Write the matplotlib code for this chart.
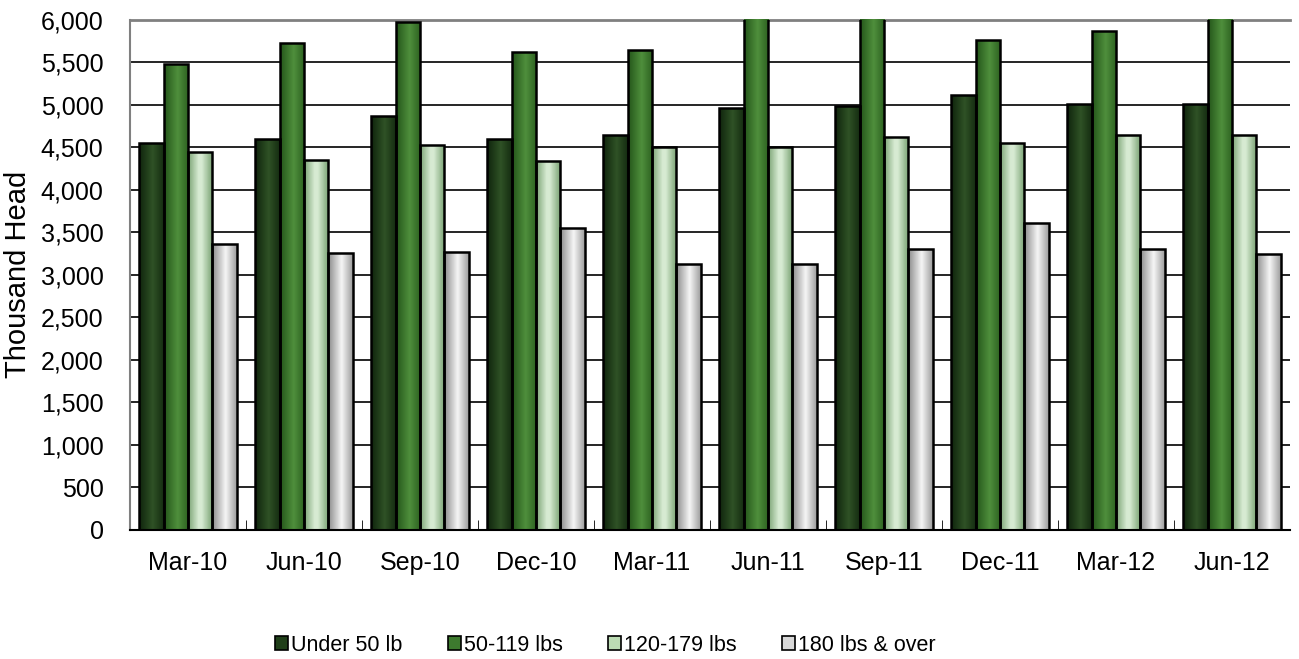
import numpy as np
import matplotlib
matplotlib.use("Agg")
import matplotlib.pyplot as plt
from matplotlib.colors import LinearSegmentedColormap
from matplotlib.patches import Patch

plt.rcParams["font.family"] = ["Liberation Sans", "DejaVu Sans"]

QUARTERS = ["Mar-10", "Jun-10", "Sep-10", "Dec-10", "Mar-11",
            "Jun-11", "Sep-11", "Dec-11", "Mar-12", "Jun-12"]
SERIES = ["Under 50 lb", "50-119 lbs", "120-179 lbs", "180 lbs & over"]
UNDER_50 = [4550, 4600, 4870, 4600, 4640, 4960, 4980, 5110, 5010, 5010]
LBS_50_119 = [5480, 5725, 5975, 5625, 5650, 6080, 6120, 5765, 5865, 6150]
LBS_120_179 = [4450, 4350, 4525, 4335, 4505, 4505, 4625, 4550, 4650, 4640]
LBS_180_UP = [3360, 3255, 3265, 3555, 3125, 3125, 3305, 3605, 3305, 3240]
YMAX = 6000

# (edge-dark, centre-light) per series, for the cylinder-ish shading
SHADES = [("#0f240c", "#2f5226"),
          ("#24561a", "#4f8f3c"),
          ("#6f9a68", "#e4f5e0"),
          ("#8a8a8a", "#f6f6f6")]
LEGEND_FACE = ["#203f19", "#3d7a2e", "#bcdcb4", "#d8d8d8"]


def shaded_bars(ax, xs, vals, width, shade, textured=False):
    cmap = LinearSegmentedColormap.from_list("s", [shade[0], shade[1], shade[0]])
    grad = np.linspace(0, 1, 64)
    if textured:
        grad = grad + 0.12 * (np.arange(64) % 2)
    grad = grad.reshape(1, -1)
    bars = ax.bar(xs, vals, width, color=shade[0], zorder=2, linewidth=0)
    for b in bars:
        x0 = b.get_x()
        top = min(b.get_height(), YMAX)
        im = ax.imshow(grad, extent=[x0, x0 + width, 0, top],
                       aspect="auto", cmap=cmap, zorder=2.5, vmin=0, vmax=1.1)
        im.set_clip_path(b)
    ax.bar(xs, vals, width, fill=False, edgecolor="black", linewidth=1.8, zorder=3)


fig = plt.figure(figsize=(12.99, 6.59), dpi=100)
ax = fig.add_axes([0.100, 0.196, 0.893, 0.774])

x = np.arange(len(QUARTERS))
w = 0.21
all_series = [UNDER_50, LBS_50_119, LBS_120_179, LBS_180_UP]
for i, (vals, shade) in enumerate(zip(all_series, SHADES)):
    shaded_bars(ax, x + (i - 1.5) * w, vals, w, shade, textured=(i == 2))

ax.set_xlim(-0.5, len(QUARTERS) - 0.5)
ax.set_ylim(0, YMAX)
ax.set_yticks(np.arange(0, YMAX + 1, 500))
ax.set_yticklabels([f"{v:,}" for v in range(0, YMAX + 1, 500)], fontsize=18)
ax.set_xticks(x)
ax.set_xticklabels(QUARTERS, fontsize=18)
ax.tick_params(axis="x", length=0, pad=15)
ax.tick_params(axis="y", length=0, pad=19)
ax.set_xticks(np.arange(0.5, len(QUARTERS) - 0.5, 1), minor=True)
ax.tick_params(axis="x", which="minor", direction="in", length=7, color="black")
ax.grid(axis="y", color="black", linewidth=1.2, zorder=0)
ax.set_axisbelow(True)
ax.set_ylabel("Thousand Head", fontsize=21)
ax.yaxis.set_label_coords(-0.084, 0.5)

for side in ["top", "right"]:
    ax.spines[side].set_visible(False)
ax.spines["left"].set_color("#808080")
ax.spines["left"].set_linewidth(1.5)
ax.spines["bottom"].set_color("black")
ax.spines["bottom"].set_linewidth(1.5)
ax.axhline(YMAX, color="#808080", linewidth=2, zorder=1, clip_on=False)

handles = [Patch(facecolor=c, edgecolor="black", linewidth=1.2) for c in LEGEND_FACE]
fig.legend(handles, SERIES, loc="center", bbox_to_anchor=(0.466, 0.021), ncol=4,
           frameon=False, fontsize=15.5, handlelength=0.6, handleheight=0.6,
           handletextpad=0.15, columnspacing=2.1, borderpad=0.1)

fig.savefig("out.png", dpi=100)
